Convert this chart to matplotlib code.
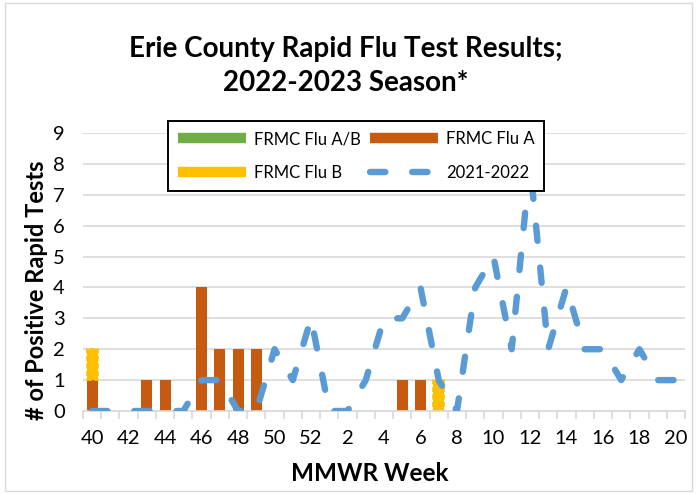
import matplotlib
matplotlib.use("Agg")
import matplotlib.pyplot as plt
from matplotlib.lines import Line2D
from matplotlib.patches import Rectangle
import numpy as np

plt.rcParams['font.family'] = ['Lato', 'DejaVu Sans']

weeks = ['40', '41', '42', '43', '44', '45', '46', '47', '48', '49', '50', '51', '52',
         '1', '2', '3', '4', '5', '6', '7', '8', '9', '10', '11', '12', '13', '14',
         '15', '16', '17', '18', '19', '20']
flu_ab = [0, 0, 0, 0, 0, 0, 0, 0, 0, 0, 0, 0, 0,
          0, 0, 0, 0, 0, 0, 0, 0, 0, 0, 0, 0, 0, 0, 0, 0, 0, 0, 0, 0]
flu_a = [1, 0, 0, 1, 1, 0, 4, 2, 2, 2, 0, 0, 0,
         0, 0, 0, 0, 1, 1, 0, 0, 0, 0, 0, 0, 0, 0, 0, 0, 0, 0, 0, 0]
flu_b = [1, 0, 0, 0, 0, 0, 0, 0, 0, 0, 0, 0, 0,
         0, 0, 0, 0, 0, 0, 1, 0, 0, 0, 0, 0, 0, 0, 0, 0, 0, 0, 0, 0]
prev_season = [0, 0, 0, 0, 0, 0, 1, 1, 0, 0, 2, 1, 3,
               0, 0, 1, 3, 3, 4, 1, 0, 4, 5, 2, 8, 2, 4, 2, 2, 1, 2, 1, 1]

C_AB = '#70AD47'
C_A = '#C55A11'
C_B = '#FFC000'
C_LINE = '#5B9BD5'
GRID = '#D9D9D9'

W, H = 696, 494
fig = plt.figure(figsize=(W / 100, H / 100), dpi=100)
ax = fig.add_axes([83 / W, 1 - 411 / H, (685 - 83) / W, (411 - 133) / H])

x = np.arange(len(weeks))
ab = np.array(flu_ab, dtype=float)
a = np.array(flu_a, dtype=float)
b = np.array(flu_b, dtype=float)
bw = 0.6
ax.bar(x, ab, bw, color=C_AB, linewidth=0, zorder=2)
ax.bar(x, a, bw, bottom=ab, color=C_A, linewidth=0, zorder=2)
ax.bar(x, b, bw, bottom=ab + a, color=C_B, linestyle=(0, (3, 1.5)), linewidth=1.2,
       edgecolor=[C_B if v > 0 else 'none' for v in b], zorder=2)

ax.plot(x, prev_season, color=C_LINE, linewidth=4.6, dashes=(2.4, 4.2),
        dash_capstyle='round', solid_capstyle='round', zorder=3)

ax.set_xlim(-0.5, len(weeks) - 0.5)
ax.set_ylim(0, 9)
ax.set_yticks(range(0, 10))
ax.yaxis.grid(True, color=GRID, linewidth=1.2, zorder=0)
ax.set_axisbelow(True)
for s in ['left', 'right', 'top']:
    ax.spines[s].set_visible(False)
ax.spines['bottom'].set_color(GRID)
ax.spines['bottom'].set_linewidth(1.2)

ax.set_xticks(x[::2])
ax.set_xticklabels(weeks[::2])
ax.set_xticks(np.arange(-0.5, len(weeks), 1.0), minor=True)
ax.tick_params(axis='x', which='major', length=0, pad=14, labelsize=14.5,
               colors='black')
ax.tick_params(axis='x', which='minor', length=6, width=1.2, color=GRID)
ax.tick_params(axis='y', length=0, pad=13, labelsize=14.5)

fig.text(37 / W, 1 - 290 / H, '# of Positive Rapid Tests', rotation=90,
         ha='center', va='center', fontsize=17, fontweight='bold')
fig.text(370 / W, 1 - 473 / H, 'MMWR Week', ha='center', va='center',
         fontsize=17.5, fontweight='bold')
fig.text(346 / W, 1 - 66 / H, 'Erie County Rapid Flu Test Results;\n2022-2023 Season*',
         ha='center', va='center', fontsize=20, fontweight='bold', linespacing=1.4)

handles = [
    Line2D([], [], color=C_AB, linewidth=7.5, solid_capstyle='butt'),
    Line2D([], [], color=C_B, linewidth=7.5, solid_capstyle='butt'),
    Line2D([], [], color=C_A, linewidth=7.5, solid_capstyle='butt'),
    Line2D([], [], color=C_LINE, linewidth=4.6, dashes=(2.4, 4.2),
           dash_capstyle='round'),
]
labels = ['FRMC Flu A/B', 'FRMC Flu B', 'FRMC Flu A', '2021-2022']
leg = ax.legend(handles, labels, ncol=2, loc='upper left',
                bbox_to_anchor=(168 / W, 1 - 121 / H), bbox_transform=fig.transFigure,
                fontsize=12, frameon=True, fancybox=False, edgecolor='black',
                framealpha=1, handlelength=4.1, handletextpad=0.45,
                columnspacing=0.55, labelspacing=1.05, borderpad=0.6,
                borderaxespad=0)
leg.get_frame().set_linewidth(1.4)
leg.set_zorder(5)

fig.patches.append(Rectangle((5 / W, 3 / H), (692 - 5) / W, (491 - 3) / H,
                             transform=fig.transFigure, fill=False,
                             edgecolor=GRID, linewidth=1))

fig.savefig('out.png', dpi=100)
